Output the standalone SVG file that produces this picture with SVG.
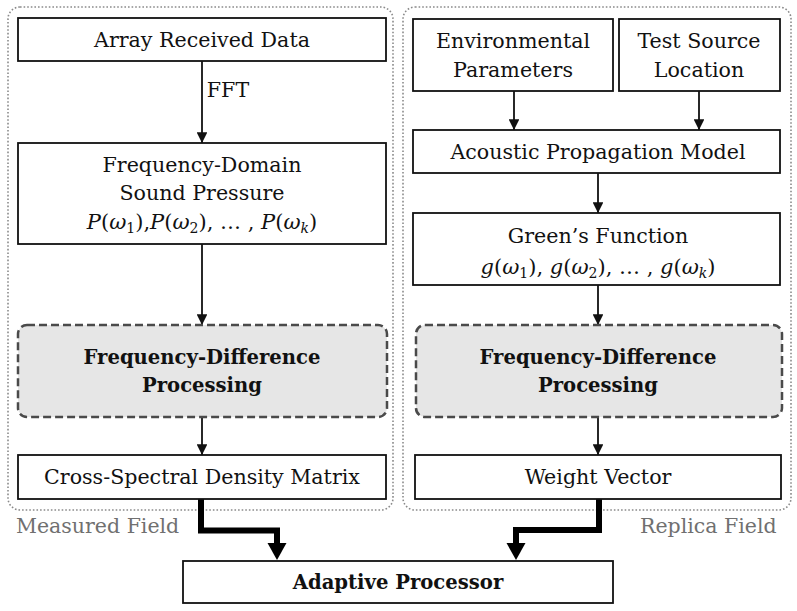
<svg xmlns="http://www.w3.org/2000/svg" width="797" height="611" viewBox="0 0 797 611">
<style>
  text { font-family: "DejaVu Serif", "Liberation Serif", serif; fill: #111; }
  .t { font-size: 20.6px; text-anchor: middle; }
  .b { font-size: 19.6px; font-weight: bold; text-anchor: middle; }
  .m { font-size: 21px; text-anchor: middle; }
  .i { font-style: italic; }
  .lbl { font-size: 20.5px; fill: #707070; }
  .box { fill: #fff; stroke: #111; stroke-width: 1.8; }
  .dbox { fill: #e6e6e6; stroke: #4a4a4a; stroke-width: 2.5; stroke-dasharray: 8 4; }
  .cont { fill: none; stroke: #8a8a8a; stroke-width: 1.6; stroke-dasharray: 1.6 2; }
  .conn { stroke: #111; stroke-width: 1.8; fill: none; marker-end: url(#ah); }
  .thick { stroke: #000; stroke-width: 6; fill: none; stroke-linejoin: miter; }
</style>
<defs>
  <marker id="ah" viewBox="0 0 10 10" refX="10" refY="5" markerWidth="6" markerHeight="6" markerUnits="strokeWidth" orient="auto">
    <path d="M0,0 L10,5 L0,10 z" fill="#111"/>
  </marker>
</defs>
<rect width="797" height="611" fill="#fff"/>

<g id="measured-field">
  <rect class="cont" x="8" y="7" width="385" height="503" rx="12"/>
  <text class="lbl" x="16" y="533">Measured Field</text>
</g>
<g id="replica-field">
  <rect class="cont" x="403" y="7" width="388" height="503" rx="12"/>
  <text class="lbl" x="640" y="533">Replica Field</text>
</g>

<g id="connectors">
  <line class="conn" x1="202" y1="61" x2="202" y2="143"/>
  <text class="t" x="228" y="97">FFT</text>
  <line class="conn" x1="202" y1="244" x2="202" y2="325"/>
  <line class="conn" x1="202" y1="417" x2="202" y2="455"/>
  <line class="conn" x1="514" y1="91" x2="514" y2="130"/>
  <line class="conn" x1="699" y1="91" x2="699" y2="130"/>
  <line class="conn" x1="598" y1="173" x2="598" y2="213"/>
  <line class="conn" x1="598" y1="285" x2="598" y2="325"/>
  <line class="conn" x1="598" y1="417" x2="598" y2="455"/>
  <path class="thick" d="M201,499 V530.5 H277 V544"/>
  <path d="M267.5,543 L286.5,543 L277,560 z" fill="#000"/>
  <path class="thick" d="M599,499 V530 H516 V544"/>
  <path d="M506.5,543 L525.5,543 L516,560 z" fill="#000"/>
</g>

<g id="array-received-data">
  <rect class="box" x="18" y="18" width="368" height="43"/>
  <text class="t" x="202" y="47">Array Received Data</text>
</g>
<g id="frequency-domain">
  <rect class="box" x="18" y="143" width="368" height="101"/>
  <text class="t" x="202" y="172">Frequency-Domain</text>
  <text class="t" x="202" y="200">Sound Pressure</text>
  <text class="m" x="202" y="229"><tspan class="i">P</tspan>(<tspan class="i">ω</tspan><tspan font-size="14" dy="4">1</tspan><tspan dy="-4">),</tspan><tspan class="i">P</tspan>(<tspan class="i">ω</tspan><tspan font-size="14" dy="4">2</tspan><tspan dy="-4">), … , </tspan><tspan class="i">P</tspan>(<tspan class="i">ω</tspan><tspan font-size="14" dy="4" class="i">k</tspan><tspan dy="-4">)</tspan></text>
</g>
<g id="fdp-left">
  <rect class="dbox" x="18" y="325" width="369" height="92" rx="9"/>
  <text class="b" x="202" y="364">Frequency-Difference</text>
  <text class="b" x="202" y="392">Processing</text>
</g>
<g id="csdm">
  <rect class="box" x="18" y="455" width="368" height="44"/>
  <text class="t" x="202" y="484">Cross-Spectral Density Matrix</text>
</g>

<g id="environmental-parameters">
  <rect class="box" x="413" y="19" width="200" height="72"/>
  <text class="t" x="513" y="48">Environmental</text>
  <text class="t" x="513" y="77">Parameters</text>
</g>
<g id="test-source-location">
  <rect class="box" x="619" y="19" width="161" height="72"/>
  <text class="t" x="699" y="48">Test Source</text>
  <text class="t" x="699" y="77">Location</text>
</g>
<g id="acoustic-propagation-model">
  <rect class="box" x="413" y="130" width="367" height="43"/>
  <text class="t" x="598" y="159">Acoustic Propagation Model</text>
</g>
<g id="greens-function">
  <rect class="box" x="413" y="213" width="367" height="72"/>
  <text class="t" x="598" y="243">Green’s Function</text>
  <text class="m" x="598" y="274"><tspan class="i">g</tspan>(<tspan class="i">ω</tspan><tspan font-size="14" dy="4">1</tspan><tspan dy="-4">), </tspan><tspan class="i">g</tspan>(<tspan class="i">ω</tspan><tspan font-size="14" dy="4">2</tspan><tspan dy="-4">), … , </tspan><tspan class="i">g</tspan>(<tspan class="i">ω</tspan><tspan font-size="14" dy="4" class="i">k</tspan><tspan dy="-4">)</tspan></text>
</g>
<g id="fdp-right">
  <rect class="dbox" x="416" y="325" width="366" height="92" rx="9"/>
  <text class="b" x="598" y="364">Frequency-Difference</text>
  <text class="b" x="598" y="392">Processing</text>
</g>
<g id="weight-vector">
  <rect class="box" x="415" y="455" width="366" height="44"/>
  <text class="t" x="598" y="484">Weight Vector</text>
</g>

<g id="adaptive-processor">
  <rect class="box" x="183" y="561" width="430" height="42"/>
  <text class="b" x="398" y="589">Adaptive Processor</text>
</g>
</svg>
